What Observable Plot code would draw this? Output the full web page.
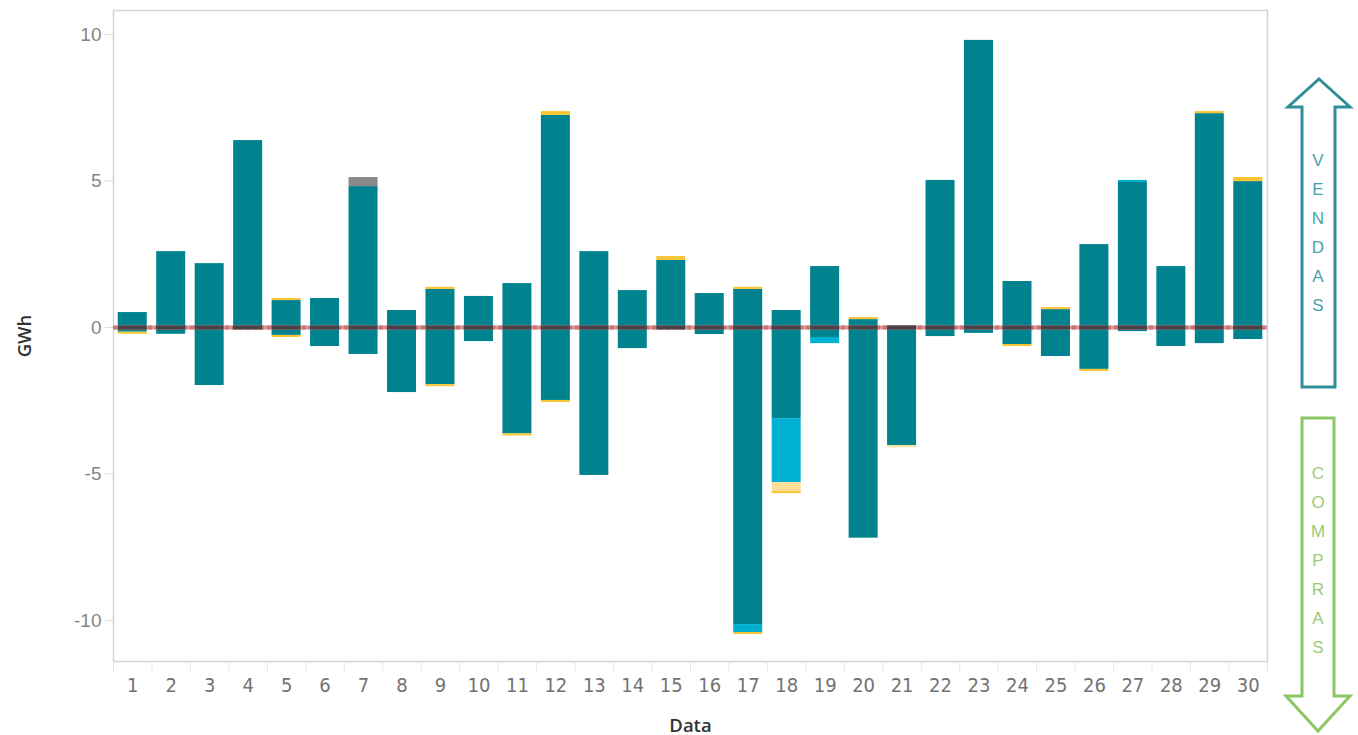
<!DOCTYPE html>
<html><head><meta charset="utf-8">
<script src="https://cdn.jsdelivr.net/npm/d3@7"></script>
<script src="https://cdn.jsdelivr.net/npm/@observablehq/plot@0.6"></script>
<style>
body{margin:0;background:#fff;}
#wrap{position:relative;width:1358px;height:735px;overflow:hidden;}
#chart svg{display:block;}
g[aria-label="y-axis tick label"] text{font-family:"Liberation Sans",Arial,sans-serif;font-size:19px;fill:#858585;}
g[aria-label="x-axis tick label"] text{font-family:"Liberation Sans Narrow","DejaVu Sans Condensed","Roboto",sans-serif;font-size:20px;fill:#727272;}
g[aria-label="y-axis label"] text, g[aria-label="x-axis label"] text{font-family:"Open Sans",sans-serif;font-size:18.5px;font-weight:600;fill:#333;}
#arrows{position:absolute;left:0;top:0;pointer-events:none;}
#arrows text{font-family:"Liberation Sans",Arial,sans-serif;font-size:17px;text-anchor:middle;}
</style></head><body>
<div id="wrap">
<div id="chart"></div>
<svg id="arrows" width="1358" height="735">
  <path d="M1319,79 L1350,107 L1335,107 L1335,387 L1302,387 L1302,107 L1288,107 Z" fill="#fff" stroke="#2f8e98" stroke-width="3" stroke-linejoin="miter"/>
  <g fill="#4aa2ab">
    <text x="1318" y="166">V</text><text x="1318" y="195">E</text><text x="1318" y="224">N</text>
    <text x="1318" y="253">D</text><text x="1318" y="282">A</text><text x="1318" y="311">S</text>
  </g>
  <path d="M1302,418 L1334,418 L1334,696 L1350,696 L1318,731 L1286,696 L1302,696 Z" fill="#fff" stroke="#8cc665" stroke-width="3" stroke-linejoin="miter"/>
  <g fill="#9acb78">
    <text x="1318" y="479">C</text><text x="1318" y="508">O</text><text x="1318" y="537">M</text>
    <text x="1318" y="566">P</text><text x="1318" y="595">R</text><text x="1318" y="624">A</text><text x="1318" y="653">S</text>
  </g>
</svg>
</div>
<script>
// ---- data ----
const days = [1,2,3,4,5,6,7,8,9,10,11,12,13,14,15,16,17,18,19,20,21,22,23,24,25,26,27,28,29,30];
const tealPos = [0.51,2.59,2.18,6.38,0.92,0.99,4.81,0.58,1.30,1.06,1.50,7.24,2.59,1.26,2.29,1.16,1.30,0.58,2.08,0.27,0.05,5.02,9.80,1.57,0.61,2.83,4.95,2.08,7.30,4.98];
const tealNeg = [-0.16,-0.23,-1.98,-0.05,-0.27,-0.65,-0.92,-2.22,-1.95,-0.48,-3.63,-2.49,-5.05,-0.72,-0.05,-0.24,-10.14,-3.11,-0.34,-7.19,-4.03,-0.31,-0.20,-0.58,-0.99,-1.43,-0.14,-0.65,-0.55,-0.41];
const cyanVal = [0,0,0,0,0,0,0,0,0,0,0,0,0,0,0,0,-0.27,-2.18,-0.21,0,0,0,0,0,0,0,0.07,0,0,0];
const lightYellowVal = [0,0,0,0,0,0,0,0,0,0,0,0,0,0,0,0,0,-0.31,0,0,-0.07,0,0,0,0,0,0,0,0,0];
const yellowPos = [0,0,0,0,0.07,0,0,0,0.07,0,0,0.13,0,0,0.13,0,0.07,0,0,0.07,0,0,0,0,0.07,0,0,0,0.07,0.14];
const yellowNeg = [-0.07,0,0,0,-0.07,0,0,0,-0.07,0,-0.07,-0.07,0,0,0,0,-0.07,-0.07,0,0,0,0,0,-0.07,0,-0.07,0,0,0,0];
const grayVal = [0,0,0,0,0,0,0.31,0,0,0,0,0,0,0,0,0,0,0,0,0,0,0,0,0,0,0,0,0,0,0];
const seriesNames = ["Série A","Série B","Série C","Série D","Série E"];
const seriesColors = ["#00838f","#00b0d1","#fce09a","#f8c431","#8a8a8a"];
const yTicks = [-10,-5,0,5,10];

// ---- build rows in stacking order ----
const parts = [["Série A",tealPos],["Série A",tealNeg],["Série B",cyanVal],["Série C",lightYellowVal],["Série D",yellowPos],["Série D",yellowNeg],["Série E",grayVal]];
const rows = [];
for (const [s, arr] of parts) arr.forEach((v,i) => { if (v !== 0) rows.push({day: days[i], series: s, value: v}); });

const W = 1358, H = 735, mL = 113, mR = 91, mT = 10, mB = 74;
const yDomain = [-11.4, 10.82];
const step = (W - mL - mR) / days.length;

const chart = Plot.plot({
  width: W, height: H,
  marginLeft: mL, marginRight: mR, marginTop: mT, marginBottom: mB,
  style: {background: "#fff"},
  x: {domain: days, paddingInner: 0.246, paddingOuter: 0.123, round: false},
  y: {domain: yDomain},
  color: {type: "ordinal", domain: seriesNames, range: seriesColors},
  marks: [
    Plot.frame({stroke: "#d4d4d4", strokeWidth: 1.5}),
    Plot.ruleX(days, {x: d => d, dx: -step/2, y1: yDomain[0], y2: yDomain[0] - 0.34, stroke: "#e2e2e2"}),
    Plot.ruleX([days[days.length-1]], {x: d => d, dx: step/2, y1: yDomain[0], y2: yDomain[0] - 0.34, stroke: "#e2e2e2"}),
    Plot.barY(rows, Plot.stackY({x: "day", y: "value", fill: "series", z: "series"})),
    Plot.ruleY([0], {stroke: "#d99393", strokeWidth: 4}),
    Plot.ruleY([0], {stroke: "#c97676", strokeWidth: 4, strokeDasharray: "4,3"}),
    Plot.tickY(days, {x: d => d, y: () => 0, stroke: "#4a4048", strokeWidth: 4}),
    Plot.axisY({ticks: yTicks, tickFormat: d => String(d), tickSize: 8, tickPadding: 4, stroke: "#dcdcdc", label: "GWh", labelAnchor: "center", labelArrow: "none", labelOffset: 96}),
    Plot.axisX({tickSize: 0, tickPadding: 16, label: "Data", labelAnchor: "center", labelArrow: "none", labelOffset: 70})
  ]
});
document.getElementById("chart").appendChild(chart);
</script>
</body></html>
